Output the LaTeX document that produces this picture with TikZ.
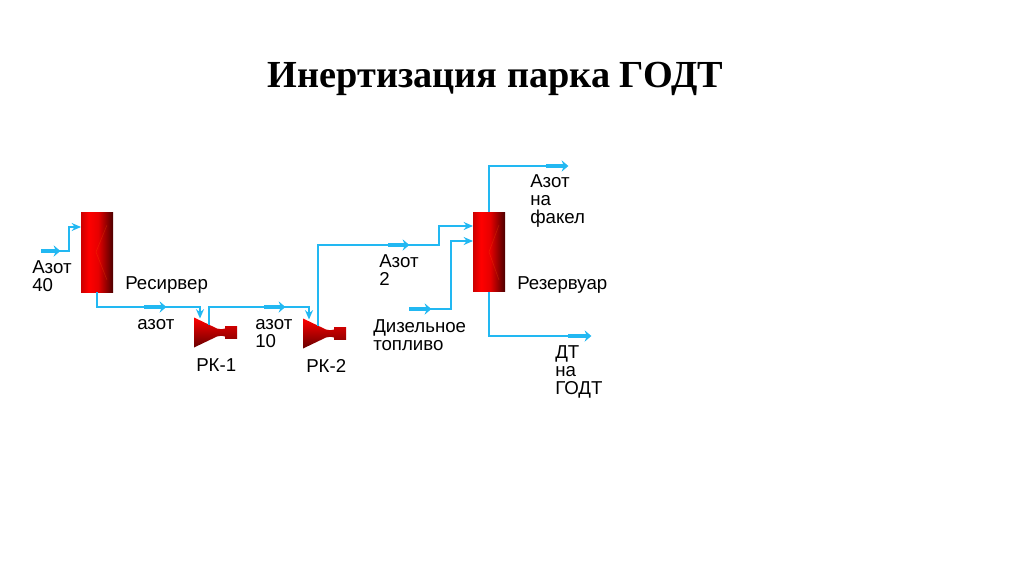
\documentclass[tikz,border=0pt]{standalone}
\usepackage{fontspec}
\setmainfont{Liberation Sans}
\newfontfamily\titlefont{Liberation Serif}
\usetikzlibrary{arrows.meta}
\definecolor{streamblue}{HTML}{22B8F2}
\pgfdeclarehorizontalshading{vesselred}{100bp}{color(0bp)=(red!80!black); color(25bp)=(red!80!black); color(37bp)=(red); color(52bp)=(red!90!black); color(75bp)=(red!30!black); color(100bp)=(red!30!black)}
\tikzset{
  stream/.style={draw=streamblue,line width=1.3pt,-{Stealth[length=7pt,width=6pt]}},
  line/.style={draw=streamblue,line width=1.3pt},
  stub/.style={draw=streamblue,line width=3.4pt,-{Stealth[length=5pt,width=8.5pt]},shorten >=-1pt},
  vessel/.style={shading=vesselred,minimum width=24pt,minimum height=59.5pt,inner sep=0pt,outer sep=0pt},
  label/.style={anchor=north west,inner sep=0pt,align=left,font=\fontsize{14}{13.6}\selectfont},
  rk/.pic={
    \shade[top color=red,middle color=red!90!black,bottom color=red!40!black] (0,-15) -- (23,-4) .. controls (26,-3) and (29,-3) .. (31,-4) -- (31,4) .. controls (29,3) and (26,3) .. (23,4) -- (0,15) -- cycle;
    \shade[top color=red!80!black,middle color=red,bottom color=red!60!black] (31,-6) rectangle (43,6);
    \coordinate (-in) at (6,-14);
    \coordinate (-out) at (15,-8);
  }
}
\begin{document}
\begin{tikzpicture}[x=0.75pt,y=-0.75pt]
\useasboundingbox (0,0) rectangle (1024,574);
\node[anchor=base,inner sep=0pt,font=\titlefont\bfseries\fontsize{28.7}{29}\selectfont] (title) at (495.5,88) {Инертизация парка ГОДТ};
% vessels
\node[vessel] (resiver) at (97,252.5) {};
\node[vessel] (rezervuar) at (489,252) {};
\draw[red!60!yellow,opacity=.25,line width=.4pt] (107,225) -- (96,252) -- (107,280);
\draw[red!60!yellow,opacity=.25,line width=.4pt] (499,225) -- (489,252) -- (499,280);
\pic (rkA) at (194,332.5) {rk};
\pic (rkB) at (303,333.5) {rk};
% free ends
\coordinate (azotIn) at (41,251);
\coordinate (azotInEnd) at (59,251);
\coordinate (azotA) at (144,307);
\coordinate (azotAEnd) at (165,307);
\coordinate (azotB) at (264,307);
\coordinate (azotBEnd) at (284,307);
\coordinate (azotC) at (388,245);
\coordinate (azotCEnd) at (408,245);
\coordinate (dtIn) at (409,309);
\coordinate (dtInEnd) at (430,309);
\coordinate (flare) at (546,166);
\coordinate (flareEnd) at (567,166);
\coordinate (godt) at (568,336);
\coordinate (godtEnd) at (590,336);
% streams
\draw[stream] (azotIn) -- (69,251) |- (resiver.west |- 0,227);
\draw[stream] (resiver.south) |- (200,307) -- (rkA-in);
\draw[stream] (rkA-out) |- (309,307) -- (rkB-in);
\draw[stream] (rkB-out) |- (439,245) |- (rezervuar.west |- 0,226);
\draw[stream] (dtIn) -| (451,241) -- (rezervuar.west |- 0,241);
\draw[line] (rezervuar.north) |- (flare);
\draw[line] (rezervuar.south) |- (godt);
% stream markers
\draw[stub] (azotIn) -- (azotInEnd);
\draw[stub] (azotA) -- (azotAEnd);
\draw[stub] (azotB) -- (azotBEnd);
\draw[stub] (azotC) -- (azotCEnd);
\draw[stub] (dtIn) -- (dtInEnd);
\draw[stub] (flare) -- (flareEnd);
\draw[stub] (godt) -- (godtEnd);
% labels
\node[label] (lblAzot40) at (32,260) {Азот\\40};
\node[label] (lblResiver) at (125,276) {Ресирвер};
\node[label] (lblAzot) at (137,319) {азот};
\node[label] (lblAzot10) at (255,319) {азот\\10};
\node[label] (lblRkA) at (196,358) {РК-1};
\node[label] (lblRkB) at (306,359) {РК-2};
\node[label] (lblAzot2) at (379,254) {Азот\\2};
\node[label] (lblDiesel) at (373,319) {Дизельное\\топливо};
\node[label] (lblFlare) at (530,174) {Азот\\на\\факел};
\node[label] (lblRez) at (517,276) {Резервуар};
\node[label] (lblGodt) at (555,345) {ДТ\\на\\ГОДТ};
\end{tikzpicture}
\end{document}
